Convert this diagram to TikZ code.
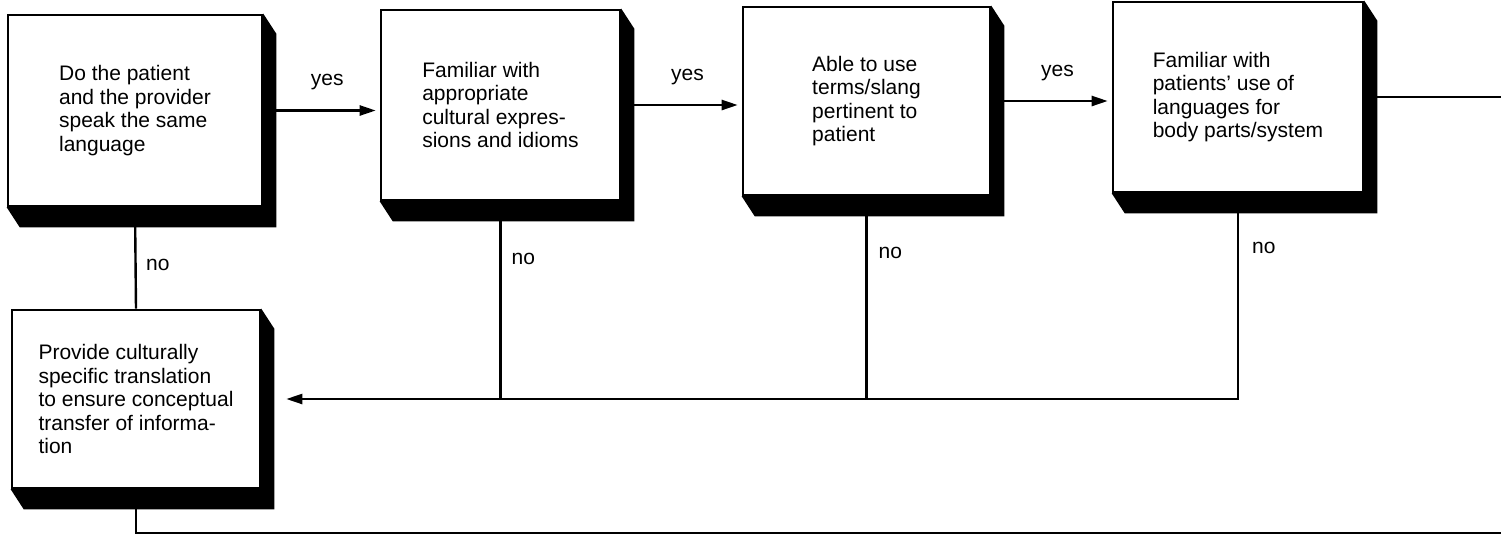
\documentclass[tikz,border=0pt]{standalone}
\usepackage{fontspec}
\setmainfont{Liberation Sans}
\usetikzlibrary{arrows.meta,calc,backgrounds}
\begin{document}
\begin{tikzpicture}[x=1pt,y=-1pt,
  font=\fontsize{21}{23.5}\selectfont,
  stepbox/.style={draw, line width=2.6pt, fill=white, align=left, inner sep=0pt},
  lbl/.style={inner sep=0pt},
  conn/.style={line width=2.4pt},
  arr/.style={conn, -{Triangle[length=16pt,width=10pt]}, shorten >=4pt}]
\useasboundingbox (0,0) rectangle (1501,539);
\node[stepbox, minimum width=254pt, minimum height=191pt] (b1) at (135,110.5)
  {Do the patient\\and the provider\\speak the same\\language};
\node[stepbox, minimum width=239pt, minimum height=190pt] (b2) at (500.5,105)
  {Familiar with\\appropriate\\cultural expres-\\sions and idioms};
\node[stepbox, minimum width=247pt, minimum height=188pt] (b3) at (866.5,101)
  {Able to use\\terms/slang\\pertinent to\\patient};
\node[stepbox, minimum width=250pt, minimum height=190pt] (b4) at (1238,97)
  {Familiar with\\patients' use of\\languages for\\body parts/system};
\node[stepbox, minimum width=248pt, minimum height=178pt] (b5) at (136,399)
  {Provide culturally\\specific translation\\to ensure conceptual\\transfer of informa-\\tion};
% yes arrows
\draw[arr] (b1.east) -- node[lbl, pos=0.55, above=19pt] (y1) {yes} (b1.east -| b2.west);
\draw[arr] (b2.east) -- node[lbl, pos=0.55, above=19pt] (y2) {yes} (b2.east -| b3.west);
\draw[arr] (b3.east) -- node[lbl, pos=0.55, above=19pt] (y3) {yes} (b3.east -| b4.west);
\coordinate (e1) at (1501,97);
\draw[conn] (b4.east) -- (e1);
% no branches
\draw[conn] (b1.south) -- (b5.north);
\draw[arr, shorten >=25pt] (b4.south) |- (b5.east);
\draw[conn] (b2.south) -- (b2.south |- b5.east);
\draw[conn] (b3.south) -- (b3.south |- b5.east);
\coordinate (e2) at (1501,533);
\draw[conn] (b5.south) |- (e2);
\node[lbl, anchor=west] (n1) at ($(b1.south)+(11,58)$) {no};
\node[lbl, anchor=west] (n2) at ($(b2.south)+(11,58)$) {no};
\node[lbl, anchor=west] (n3) at ($(b3.south)+(12,57)$) {no};
\node[lbl, anchor=west] (n4) at ($(b4.south)+(14,55)$) {no};
% shadows
\begin{scope}[on background layer]
  \fill[white] (0,0) rectangle (1501,539);
  \foreach \b in {b1,b2,b3,b4,b5} {
    \fill[black] (\b.north east) -- ($(\b.north east)+(13,20)$)
      -- ($(\b.south east)+(13,20)$) -- ($(\b.south west)+(13,20)$)
      -- (\b.south west) -- cycle;
  }
\end{scope}
\end{tikzpicture}
\end{document}
